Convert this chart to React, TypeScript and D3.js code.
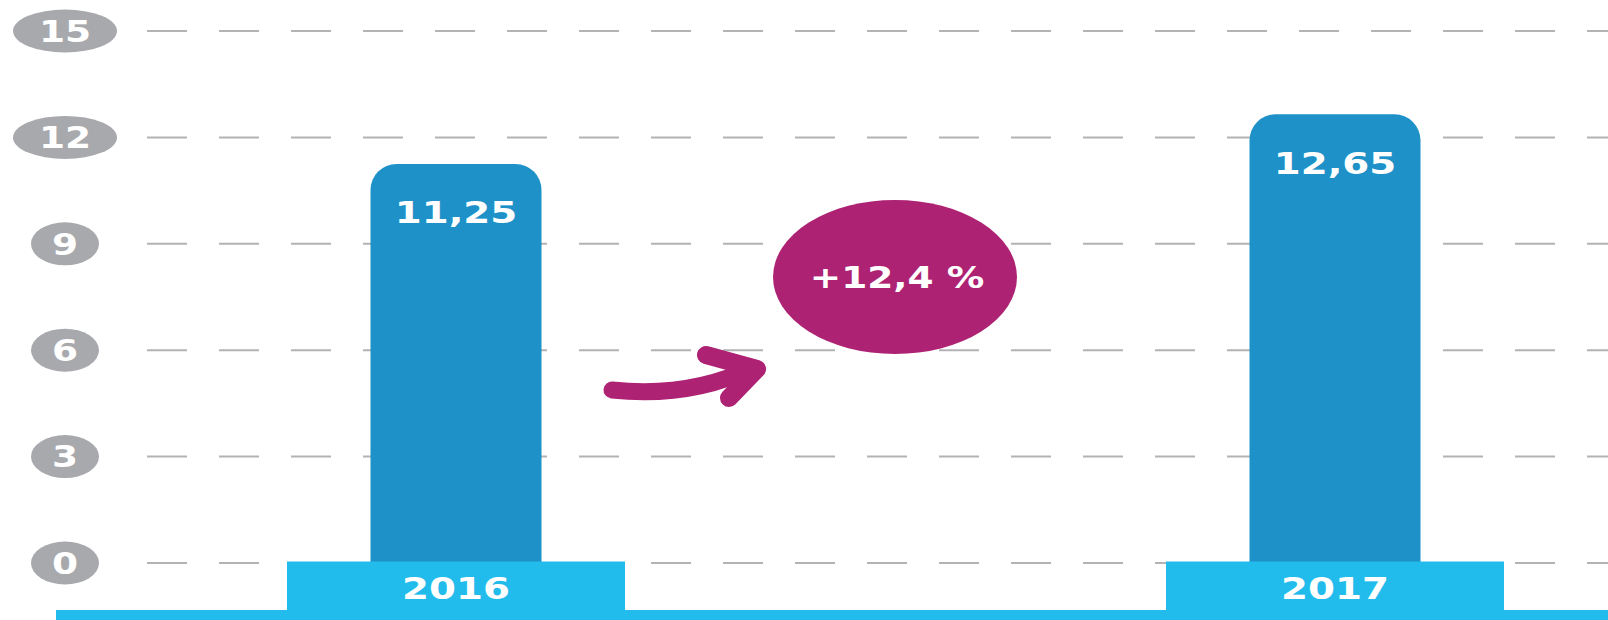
import * as d3 from 'd3';

const years = ['2016', '2017'];
const values = [11.25, 12.65];
const valueLabels = ['11,25', '12,65'];
const ticks = [0, 3, 6, 9, 12, 15];
const changeLabel = '+12,4 %';

const W = 1608;
const H = 620;
const FONT = 'DejaVu Sans, Verdana, sans-serif';
const SX = 1.25; // the source picture is stretched sideways

const y = d3.scaleLinear().domain([0, 15]).range([563, 31]);
const x = d3.scalePoint<string>().domain(years).range([456, 1335]);

const barW = 171;
const boxW = 338;
const r = 26;

function barPath(cx: number, top: number, bottom: number) {
  const p = d3.path();
  const x0 = cx - barW / 2;
  const x1 = cx + barW / 2;
  p.moveTo(x0, bottom);
  p.lineTo(x0, top + r);
  p.arcTo(x0, top, x0 + r, top, r);
  p.lineTo(x1 - r, top);
  p.arcTo(x1, top, x1, top + r, r);
  p.lineTo(x1, bottom);
  p.closePath();
  return p.toString();
}

const Txt = ({ cx, cy, size, children }: any) => (
  <text
    transform={`translate(${cx},${cy}) scale(${SX},1)`}
    textAnchor="middle"
    dy="0.36em"
    fontFamily={FONT}
    fontWeight="bold"
    fontSize={size}
    fill="#fff"
  >
    {children}
  </text>
);

export default function App() {
  // arrow between the bars
  const tail = d3.path();
  tail.moveTo(612, 390);
  tail.quadraticCurveTo(690, 398, 752, 368);
  const head = d3.path();
  head.moveTo(706, 355);
  head.lineTo(757, 369);
  head.lineTo(729, 398);

  return (
    <svg width={W} height={H} style={{ position: 'absolute', left: 0, top: 0, background: '#fff' }}>
      {/* grid */}
      {ticks.map((t) => {
        const wide = String(t).length > 1;
        return (
          <g key={t}>
            <line
              x1={147}
              x2={W}
              y1={y(t)}
              y2={y(t)}
              stroke="#b3b3b5"
              strokeWidth={2}
              strokeDasharray="40 32"
            />
            <ellipse cx={65} cy={y(t)} rx={wide ? 52 : 34} ry={21.5} fill="#a8a9ad" />
            <Txt cx={65} cy={y(t)} size={30}>{t}</Txt>
          </g>
        );
      })}

      {/* bars */}
      {years.map((yr, i) => (
        <g key={yr}>
          <path d={barPath(x(yr)!, y(values[i]), y(0))} fill="#1e92c8" />
          <Txt cx={x(yr)!} cy={y(values[i]) + 48} size={31}>{valueLabels[i]}</Txt>
          <rect x={x(yr)! - boxW / 2} y={y(0) - 1.5} width={boxW} height={H - y(0) + 1.5} fill="#22bcec" />
          <Txt cx={x(yr)!} cy={y(0) + 25} size={31}>{yr}</Txt>
        </g>
      ))}
      <rect x={56} y={610} width={W - 56} height={10} fill="#22bcec" />

      {/* change annotation */}
      <path d={tail.toString()} fill="none" stroke="#ae2273" strokeWidth={17} strokeLinecap="round" />
      <path d={head.toString()} fill="none" stroke="#ae2273" strokeWidth={18} strokeLinecap="round" strokeLinejoin="round" />
      <ellipse cx={895} cy={277} rx={122} ry={77} fill="#ae2273" />
      <Txt cx={897} cy={277} size={30}>{changeLabel}</Txt>
    </svg>
  );
}
